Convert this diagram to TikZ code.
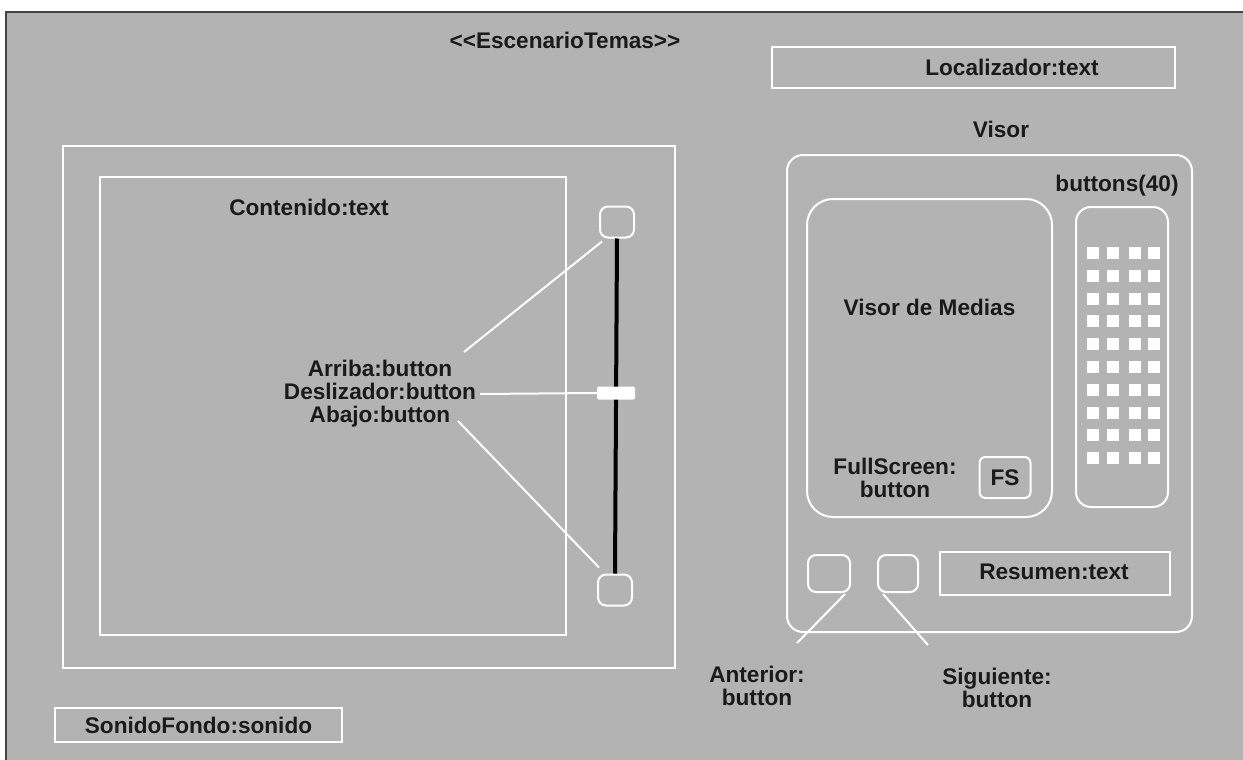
\documentclass[tikz,border=0pt]{standalone}
\usepackage{fontspec}
\newfontfamily\arial{Liberation Sans}
\definecolor{bg}{HTML}{B3B3B3}
\definecolor{ink}{HTML}{1A1A1A}
\definecolor{frame}{HTML}{444444}
\begin{document}
\begin{tikzpicture}[x=1pt,y=-1pt,
  lbl/.style={text=ink,font=\arial\bfseries\fontsize{22.6}{23}\selectfont,inner sep=0pt,align=center},
  wbox/.style={draw=white,line width=2pt,inner sep=0pt},
  rbox/.style={draw=white,line width=2pt,rounded corners=#1},
  btn/.style={draw=white,line width=2pt,rounded corners=8pt,minimum width=34pt,minimum height=31pt,inner sep=0pt},
  wire/.style={draw=white,line width=2pt},
  cell/.style={fill=white}
]
\useasboundingbox (0,0) rectangle (1243,760);
\fill[white] (0,0) rectangle (1243,760);
\fill[bg] (6,12) rectangle (1243,760);
\draw[frame,line width=2.5pt] (6,760) -- (6,12) -- (1243,12);

% title
\node[lbl] (title) at (565,40.5) {<<EscenarioTemas>>};

% left part
\node[wbox,minimum width=612pt,minimum height=522pt] (outer) at (369,407) {};
\node[wbox,minimum width=466pt,minimum height=458pt] (inner) at (333,406) {};
\node[lbl] (cont) at (309,207) {Contenido:text};

\node[btn] (up) at (617,222) {};
\node[btn] (dn) at (615,590) {};
\draw[black,line width=4pt] (up.south) -- (dn.north);
\node[fill=white,rounded corners=2pt,minimum width=38pt,minimum height=13pt,inner sep=0pt] (sl) at (616,393) {};

\node[lbl] (labs) at (380,394) {Arriba:button\\Deslizador:button\\Abajo:button};
\coordinate (arrE) at (464,352);
\coordinate (desE) at (480,394);
\coordinate (abaE) at (458,421);
\draw[wire] (arrE) -- ([xshift=3pt,yshift=-3pt]up.south west);
\draw[wire] (desE) -- (sl.west);
\draw[wire] (abaE) -- ([xshift=2pt,yshift=6pt]dn.north west);

\node[wbox,minimum width=287pt,minimum height=34pt] (son) at (198.5,725) {};
\node[lbl] at (son.center) {SonidoFondo:sonido};

% right part
\node[wbox,minimum width=403pt,minimum height=41pt] (loc) at (973.5,67.5) {};
\node[lbl] (loct) at (1012,67) {Localizador:text};
\node[lbl] (visor) at (1001,129) {Visor};
\draw[rbox=16pt] (787,155) rectangle (1192,632);
\node[lbl] (b40) at (1117,186) {buttons(40)};
\draw[rbox=26pt] (807,199) rectangle (1052,517);
\node[lbl] (vm) at (929.5,307) {Visor de Medias};
\node[lbl] (fst) at (895,478) {FullScreen:\\button};
\node[draw=white,line width=2pt,rounded corners=6pt,minimum width=51pt,minimum height=41pt,inner sep=0pt,lbl] (fs) at (1005,477.5) {FS};
\draw[rbox=15pt] (1076,207) rectangle (1168,507);
\foreach \r in {0,...,9}{
  \foreach \c/\xx in {0/1087,1/1107,2/1129,3/1148}{
    \fill[cell] (\xx,247+\r*22.8) rectangle ++(12,12);
  }
}
\node[btn,minimum width=42pt,minimum height=37pt] (ant) at (829,573.5) {};
\node[btn,minimum width=40pt,minimum height=37pt] (sig) at (898,573.5) {};
\node[wbox,minimum width=230pt,minimum height=43pt] (res) at (1055,573.5) {};
\node[lbl] at (1054,572) {Resumen:text};

\node[lbl] (antl) at (757,686) {Anterior:\\button};
\node[lbl] (sigl) at (997,688) {Siguiente:\\button};
\coordinate (antE) at (797,643);
\coordinate (sigE) at (928,645);
\draw[wire] ([xshift=-6pt,yshift=-1pt]ant.south east) -- (antE);
\draw[wire] ([xshift=6pt,yshift=-1pt]sig.south west) -- (sigE);
\end{tikzpicture}
\end{document}
